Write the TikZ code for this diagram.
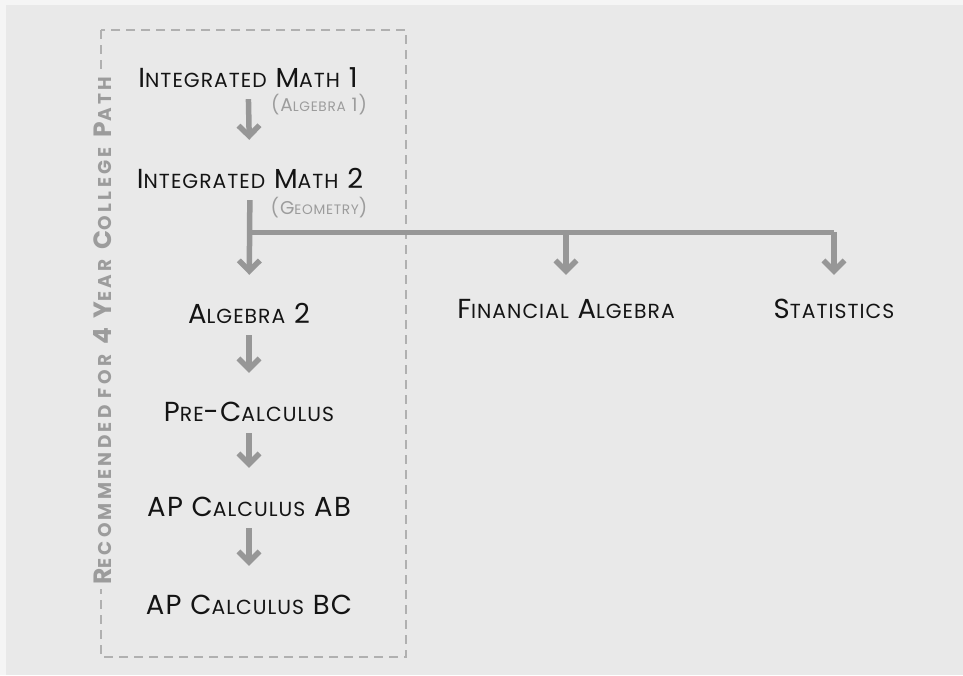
\documentclass[tikz,border=0pt]{standalone}
\usepackage{fontspec}
\setmainfont{Poppins}[LetterSpace=5]
\usetikzlibrary{arrows.meta}
\definecolor{paper}{HTML}{F5F5F5}
\definecolor{panel}{HTML}{E9E9E9}
\definecolor{flowgray}{HTML}{979797}
\definecolor{notegray}{HTML}{9C9C9C}
\definecolor{ink}{HTML}{141414}
\makeatletter
\newcommand\lc[1]{{\fontsize{\fpeval{0.74*\f@size}}{1}\selectfont #1}}
\makeatother

\begin{document}
\begin{tikzpicture}[x=1pt,y=-1pt]
	\tikzstyle{course}=[text=ink,font=\fontsize{27.5}{27.5}\selectfont,inner sep=0pt,text height=20pt,text depth=0pt]
	\tikzstyle{note}=[text=notegray,font=\fontsize{18.5}{18.5}\selectfont,inner sep=0pt]
	\tikzstyle{flow}=[draw=flowgray,line width=5.5pt,-{Straight Barb[length=10.5pt,width=21pt,line join=miter]}]
	\tikzstyle{trunk}=[draw=flowgray,line width=5pt]
	
	% Background
	\fill[paper] (0,0) rectangle (963,675);
	\fill[panel] (6,5) rectangle (963,675);
	\useasboundingbox (0,0) rectangle (963,675);
	
	% Recommended path frame
	\draw[draw=notegray!80,line width=1.6pt,dash pattern=on 9pt off 6pt] (101,30) rectangle (406,657);
	\node[rotate=90,fill=panel,text=notegray,inner xsep=4pt,inner ysep=0pt,font=\fontsize{25}{25}\selectfont\bfseries\addfontfeatures{LetterSpace=18}] (path) at (103,331)
	{R\lc{ECOMMENDED FOR} 4 Y\lc{EAR} C\lc{OLLEGE} P\lc{ATH}};
	
	% Courses
	\node[course] (im1) at (248,77) {I\lc{NTEGRATED} M\lc{ATH} 1};
	\node[course] (im2) at (250,178) {I\lc{NTEGRATED} M\lc{ATH} 2};
	\node[course] (alg2) at (249,313) {A\lc{LGEBRA} 2};
	\node[course] (pre) at (249,411) {P\lc{RE}-C\lc{ALCULUS}};
	\node[course] (ab) at (249,506) {AP C\lc{ALCULUS} AB};
	\node[course] (bc) at (249,604) {AP C\lc{ALCULUS} BC};
	\node[course] (fin) at (566,308) {F\lc{INANCIAL} A\lc{LGEBRA}};
	\node[course] (stat) at (834,308) {S\lc{TATISTICS}};
	
	% Notes under the first two courses
	\node[note] (n1) at (319,105) {(A\lc{LGEBRA} 1)};
	\node[note] (n2) at (319,208) {(G\lc{EOMETRY})};
	
	% Straight path
	\foreach \a/\b in {im1/im2,alg2/pre,pre/ab,ab/bc}
	\draw[flow,shorten <=12pt,shorten >=28pt] (\a) -- (\b);
	\draw[flow,shorten <=12pt,shorten >=28pt] (im2) -- (alg2);
	
	% Branches to the other courses
	\coordinate (fork) at (im2.south |- 0,232);
	\draw[trunk] ([xshift=-2.5pt]fork) -- (stat |- fork);
	\foreach \dest in {fin,stat}
	\draw[flow,shorten >=23pt] (\dest |- fork) -- (\dest);
\end{tikzpicture}
\end{document}
